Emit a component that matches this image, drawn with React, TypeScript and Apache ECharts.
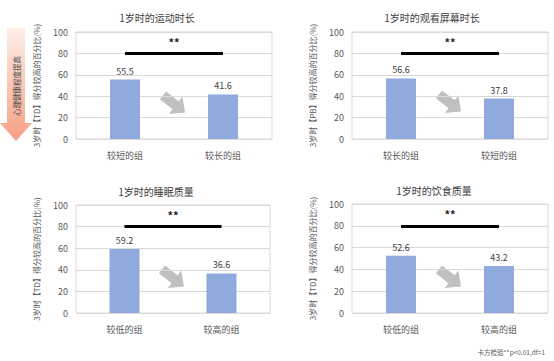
import React, { useEffect, useRef } from "react";
import * as echarts from "echarts";

const titles = ["1岁时的运动时长", "1岁时的观看屏幕时长", "1岁时的睡眠质量", "1岁时的饮食质量"];
const yNames = [
  "3岁时【TD】得分较高的百分比(%)",
  "3岁时【PB】得分较高的百分比(%)",
  "3岁时【TD】得分较高的百分比(%)",
  "3岁时【TD】得分较高的百分比(%)",
];
const categoriesTL = ["较短的组", "较长的组"];
const categoriesTR = ["较长的组", "较短的组"];
const categoriesBL = ["较低的组", "较高的组"];
const categoriesBR = ["较低的组", "较高的组"];
const valuesTL = [55.5, 41.6];
const valuesTR = [56.6, 37.8];
const valuesBL = [59.2, 36.6];
const valuesBR = [52.6, 43.2];
const sigLevel = 80;
const sigLabel = "**";
const sideLabel = "心理健康程度提高";
const footnote = "卡方检验**p<0.01,df=1";

const allCategories = [categoriesTL, categoriesTR, categoriesBL, categoriesBR];
const allValues = [valuesTL, valuesTR, valuesBL, valuesBR];

const FONT = "'Noto Sans CJK SC', 'Noto Sans', sans-serif";
const grids = [
  { left: 76, top: 32, width: 196, height: 107 },
  { left: 352, top: 32, width: 196, height: 107 },
  { left: 76, top: 205, width: 194, height: 108 },
  { left: 352, top: 204, width: 196, height: 109 },
];
const titlePos = [
  [157, 17],
  [432, 17],
  [156, 191],
  [434, 190],
];
const arrowCenters = [
  [174, 104],
  [450, 103],
  [173, 278],
  [450, 278],
];

function fatArrow(cx: number, cy: number, deg: number) {
  const base = [
    [-14, -5],
    [2, -5],
    [2, -11],
    [14, 0],
    [2, 11],
    [2, 5],
    [-14, 5],
  ];
  const t = (deg * Math.PI) / 180;
  const c = Math.cos(t);
  const s = Math.sin(t);
  return base.map(([x, y]) => [cx + x * c - y * s, cy + x * s + y * c]);
}

export default function App() {
  const ref = useRef<HTMLDivElement>(null);
  useEffect(() => {
    document.body.style.margin = "0";
    const chart = echarts.init(ref.current!, null, { renderer: "svg" });
    const graphic: any[] = [];
    titles.forEach((t, i) => {
      graphic.push({
        type: "text",
        x: titlePos[i][0],
        y: titlePos[i][1],
        style: {
          text: t,
          fill: "#404040",
          font: `10px ${FONT}`,
          textAlign: "center",
          textVerticalAlign: "middle",
        },
      });
    });
    arrowCenters.forEach(([cx, cy]) => {
      graphic.push({
        type: "polygon",
        shape: { points: fatArrow(cx, cy, 38) },
        style: { fill: "#c0c0c0" },
      });
    });
    graphic.push({
      type: "polygon",
      shape: {
        points: [
          [7, 28],
          [25, 28],
          [25, 123],
          [32, 123],
          [16, 141],
          [0, 123],
          [7, 123],
        ],
      },
      style: {
        fill: new echarts.graphic.LinearGradient(0, 0, 0, 1, [
          { offset: 0, color: "#fdeee9" },
          { offset: 1, color: "#f4a084" },
        ]),
      },
    });
    graphic.push({
      type: "text",
      x: 16,
      y: 86,
      rotation: Math.PI / 2,
      style: {
        text: sideLabel,
        fill: "#404040",
        font: `7.5px ${FONT}`,
        textAlign: "center",
        textVerticalAlign: "middle",
      },
    });
    graphic.push({
      type: "text",
      x: 545,
      y: 352,
      style: {
        text: footnote,
        fill: "#595959",
        font: `6.5px ${FONT}`,
        textAlign: "right",
        textVerticalAlign: "middle",
      },
    });

    chart.setOption({
      animation: false,
      textStyle: { fontFamily: FONT },
      grid: grids.map((g) => ({ ...g, show: true, borderColor: "#d9d9d9", borderWidth: 1 })),
      xAxis: allCategories.map((cats, i) => ({
        type: "category",
        gridIndex: i,
        data: cats,
        axisLine: { show: false },
        axisTick: { show: false },
        axisLabel: { color: "#595959", fontSize: 9, margin: 12 },
      })),
      yAxis: yNames.map((n, i) => ({
        type: "value",
        gridIndex: i,
        min: 0,
        max: 100,
        interval: 20,
        name: n,
        nameLocation: "middle",
        nameGap: 36,
        nameTextStyle: { color: "#595959", fontSize: 8 },
        axisLine: { show: false },
        axisTick: { show: false },
        axisLabel: { color: "#595959", fontSize: 9, margin: 8 },
        splitLine: { lineStyle: { color: "#d9d9d9" } },
      })),
      series: allValues.map((vals, i) => ({
        type: "bar",
        xAxisIndex: i,
        yAxisIndex: i,
        data: vals,
        barWidth: 30,
        itemStyle: { color: "#8faadc" },
        label: { show: true, position: "top", distance: 4, color: "#404040", fontSize: 9 },
        markLine: {
          silent: true,
          symbol: "none",
          lineStyle: { color: "#000", width: 3, type: "solid" },
          label: {
            show: true,
            position: "middle",
            formatter: sigLabel,
            color: "#262626",
            fontSize: 11,
            fontWeight: "bold",
            distance: 6,
          },
          emphasis: { disabled: true },
          data: [[{ coord: [0, sigLevel] }, { coord: [1, sigLevel] }]],
        },
      })),
      graphic,
    });
    return () => chart.dispose();
  }, []);
  return <div ref={ref} style={{ position: "absolute", left: 0, top: 0, width: 554, height: 361 }} />;
}
